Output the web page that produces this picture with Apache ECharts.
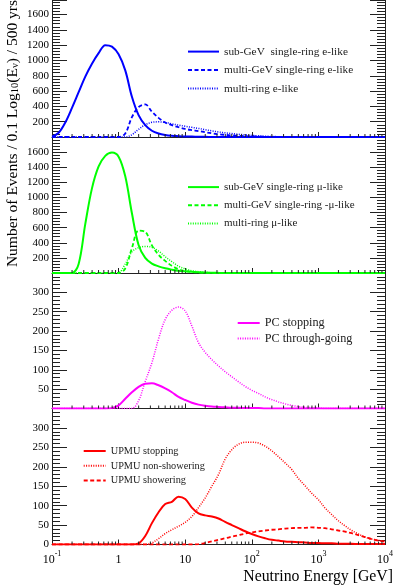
<!DOCTYPE html>
<html><head><meta charset="utf-8">
<script src="https://cdn.jsdelivr.net/npm/echarts@6.0.0/dist/echarts.min.js"></script>
<style>html,body{margin:0;padding:0;background:#fff}#c{width:395px;height:586px}</style>
</head><body><div id="c"></div>
<script>
// bin centres, log10(E/GeV)
const logE = [-1.0,-0.9,-0.8,-0.7,-0.6,-0.5,-0.4,-0.3,-0.2,-0.1,0.0,0.1,0.2,0.3,0.4,0.5,0.6,0.7,0.8,0.9,1.0,1.1,1.2,1.3,1.4,1.5,1.6,1.7,1.8,1.9,2.0,2.1,2.2,2.3,2.4,2.5,2.6,2.7,2.8,2.9,3.0,3.1,3.2,3.3,3.4,3.5,3.6,3.7,3.8,3.9,4.0];

// panel 1 (e-like)
const subGeVe   = [5,55,190,380,585,788,957,1095,1200,1180,1080,870,525,285,155,82,45,26,16,11,7,5,3,2,1,0,0,0,0,0,0,0,0,0,0,0,0,0,0,0,0,0,0,0,0,0,0,0,0,0,0];
const multiGeVe = [0,0,0,0,0,0,0,0,0,0,0,45,260,390,425,330,250,190,155,128,105,90,78,62,48,37,28,21,16,11,8,5,3,2,1,0,0,0,0,0,0,0,0,0,0,0,0,0,0,0,0];
const multiRingE= [0,0,0,0,0,0,0,0,0,0,0,0,30,100,160,192,198,190,172,155,140,126,112,95,80,66,54,45,36,28,21,15,10,7,4,2,1,0,0,0,0,0,0,0,0,0,0,0,0,0,0];
// panel 2 (mu-like)
const subGeVmu   = [0,0,0,0,120,650,1120,1410,1550,1595,1540,1280,790,370,200,125,88,62,44,30,22,15,10,6,4,2,1,0,0,0,0,0,0,0,0,0,0,0,0,0,0,0,0,0,0,0,0,0,0,0,0];
const multiGeVmu = [0,0,0,0,0,0,0,0,0,0,0,60,330,560,545,365,240,160,95,50,25,12,6,3,1,0,0,0,0,0,0,0,0,0,0,0,0,0,0,0,0,0,0,0,0,0,0,0,0,0,0];
const multiRingMu= [0,0,0,0,0,0,0,0,0,0,5,120,280,335,352,340,290,215,150,90,55,30,17,8,4,2,1,0,0,0,0,0,0,0,0,0,0,0,0,0,0,0,0,0,0,0,0,0,0,0,0];
// panel 3 (PC)
const pcStop    = [0,0,0,0,0,0,0,0,0,1,8,25,42,56,64,65,60,52,42,30,22,15,10,7,5,4,3,2,2,1,1,1,0,0,0,0,0,0,0,0,0,0,0,0,0,0,0,0,0,0,0];
const pcThrough = [0,0,0,0,0,0,0,0,0,0,0,0,0,20,70,118,180,230,254,262,252,213,170,145,126,110,95,82,69,57,47,39,30,23,17,12,8,5,3,2,1,0,0,0,0,0,0,0,0,0,0];
// panel 4 (UPMU)
const upmuStop  = [0,0,0,0,0,0,0,0,0,0,0,0,0,3,22,55,83,104,110,123,117,95,80,75,72,67,58,50,42,34,27,21,16,12,10,8,7,6,5,4,4,3,3,2,2,2,1,1,1,1,1];
const upmuNonSh = [0,0,0,0,0,0,0,0,0,0,0,0,0,0,0,4,15,28,38,47,57,72,95,120,150,180,220,244,258,263,263,261,253,241,226,210,193,170,151,132,115,94,77,61,48,36,27,19,14,11,8];
const upmuSh    = [0,0,0,0,0,0,0,0,0,0,0,0,0,0,0,0,0,0,0,0,0,0,1,4,8,12,16,20,24,28,31,34,36,38,39,41,42,43,43,44,43,42,39,36,33,29,24,19,14,10,7];

const xMinorTicks = [0.2,0.3,0.4,0.5,0.6,0.7,0.8,0.9,2,3,4,5,6,7,8,9,20,30,40,50,60,70,80,90,200,300,400,500,600,700,800,900,2000,3000,4000,5000,6000,7000,8000,9000];
const xTickLabels = {'-1':'{b|10}{s|-1}','0':'{b|1}','1':'{b|10}','2':'{b|10}{s|2}','3':'{b|10}{s|3}','4':'{b|10}{s|4}'};

const seriesNames = [
  ['sub-GeV  single-ring e-like','multi-GeV single-ring e-like','multi-ring e-like'],
  ['sub-GeV single-ring \u03bc-like','multi-GeV single-ring -\u03bc-like','multi-ring \u03bc-like'],
  ['PC stopping','PC through-going'],
  ['UPMU stopping','UPMU non-showering','UPMU showering']
];
const seriesData = [
  [subGeVe, multiGeVe, multiRingE],
  [subGeVmu, multiGeVmu, multiRingMu],
  [pcStop, pcThrough],
  [upmuStop, upmuNonSh, upmuSh]
];
const seriesStyle = [
  ['solid','dashed','dotted'],
  ['solid','dashed','dotted'],
  ['solid','dotted'],
  ['solid','dotted','dashed']
];
const panelColors = ['#0000ff','#00ff00','#ff00ff','#ff0000'];
const yMax = [1790, 1800, 350, 350];
const yStep = [200, 200, 50, 50];

const FONT = 'Liberation Serif';
const gridBox = [
  {top:0, height:137},
  {top:137, height:136},
  {top:273, height:135.5},
  {top:408.5, height:136}
];
const legendBox = [
  {left:187, top:46, itemWidth:31, itemHeight:14, itemGap:7.3, fontSize:11.3},
  {left:187, top:181.5, itemWidth:31, itemHeight:14, itemGap:7, fontSize:11},
  {left:236.7, top:317, itemWidth:22, itemHeight:14, itemGap:3.5, fontSize:12.2},
  {left:82.7, top:446, itemWidth:22, itemHeight:12, itemGap:4.8, fontSize:10.3}
];

const E = logE.map(l => Math.pow(10, l));
const lineTypes = {
  solid: {type:'solid', width:2},
  dashed: {type:[4,2.5], width:1.8},
  dotted: {type:[1,1.4], width:1.5}
};

const grid = [], xAxis = [], yAxis = [], series = [], legend = [];
gridBox.forEach((g, i) => {
  grid.push({left:52, width:333, top:g.top, height:g.height, containLabel:false, outerBoundsMode:'none'});
  xAxis.push({
    type:'log', logBase:10, min:0.1, max:10000, gridIndex:i, splitNumber:5,
    axisLine:{show:true, lineStyle:{color:'#222', width:1}},
    axisTick:{show:true, inside:true, length:5, lineStyle:{color:'#222'}},
    splitLine:{show:false},
    axisLabel:{
      show: i === 3, margin:5, color:'#000', fontFamily:FONT,
      formatter: v => xTickLabels[String(Math.round(Math.log10(v)))] || '',
      rich:{
        b:{fontSize:12, fontFamily:FONT, color:'#000', lineHeight:16, verticalAlign:'bottom'},
        s:{fontSize:8, fontFamily:FONT, color:'#000', lineHeight:9, verticalAlign:'top'}
      }
    }
  });
  const yCommon = {
    type:'value', gridIndex:i, min:0, max:yMax[i], interval:yStep[i],
    splitLine:{show:false},
    axisLine:{show:true, lineStyle:{color:'#222', width:1}},
    axisTick:{show:true, inside:true, length:15, lineStyle:{color:'#222'}},
    minorTick:{show:true, splitNumber:5, length:8, lineStyle:{color:'#222'}}
  };
  yAxis.push(Object.assign({}, yCommon, {
    position:'left',
    axisLabel:{show:true, margin:3, color:'#000', fontFamily:FONT, fontSize:11,
      formatter: v => String(v),
      showMinLabel: i === 3, showMaxLabel:false}
  }));
  yAxis.push(Object.assign({}, yCommon, {
    position:'right', axisLabel:{show:false}
  }));
  seriesData[i].forEach((arr, k) => {
    series.push({
      type:'line', name:seriesNames[i][k], xAxisIndex:i, yAxisIndex:2*i,
      data: arr.map((v, j) => [E[j], v]),
      smooth:0.35, symbol:'none', showSymbol:false,
      lineStyle:Object.assign({color:panelColors[i]}, lineTypes[seriesStyle[i][k]]),
      itemStyle:{color:panelColors[i]},
      z:3, animation:false
    });
  });
  // minor logarithmic ticks along the energy axis
  series.push({
    type:'custom', xAxisIndex:i, yAxisIndex:2*i, silent:true, animation:false, clip:false, z:4,
    data: xMinorTicks.map(v => [v, 0]),
    renderItem: (params, api) => {
      const p = api.coord([api.value(0), 0]);
      return {type:'line', shape:{x1:p[0], y1:p[1], x2:p[0], y2:p[1]-3}, style:{stroke:'#222', lineWidth:1}};
    }
  });
  const lb = legendBox[i];
  legend.push({
    data: seriesNames[i], orient:'vertical', left:lb.left, top:lb.top,
    itemWidth:lb.itemWidth, itemHeight:lb.itemHeight, itemGap:lb.itemGap,
    padding:0, selectedMode:false,
    itemStyle:{opacity:0, borderWidth:0},
    textStyle:{fontFamily:FONT, fontSize:lb.fontSize, color:'#222'}
  });
});

const chart = echarts.init(document.getElementById('c'), null, {renderer:'canvas'});
chart.setOption({
  animation:false,
  backgroundColor:'#fff',
  grid, xAxis, yAxis, series, legend,
  graphic:[
    {type:'text', x:11, y:0, rotation:Math.PI/2,
     style:{
       text:'{n|Number of Events / 0.1 Log}{s|10}{n|(E}{s|\u03bd}{n|) / 500 yrs}',
       align:'right', textAlign:'right', verticalAlign:'middle', textVerticalAlign:'middle',
       fill:'#000', fontFamily:FONT, fontSize:15.5,
       rich:{
         n:{fontSize:15.5, fontFamily:FONT, fill:'#000', color:'#000', lineHeight:20, verticalAlign:'bottom'},
         s:{fontSize:10.5, fontFamily:FONT, fill:'#000', color:'#000', lineHeight:10, verticalAlign:'bottom'}
       }
     }},
    {type:'text', x:393, y:577,
     style:{text:'Neutrino Energy [GeV]', align:'right', textAlign:'right', verticalAlign:'middle', textVerticalAlign:'middle',
       fill:'#000', fontFamily:FONT, fontSize:15.8}}
  ]
});
</script></body></html>
